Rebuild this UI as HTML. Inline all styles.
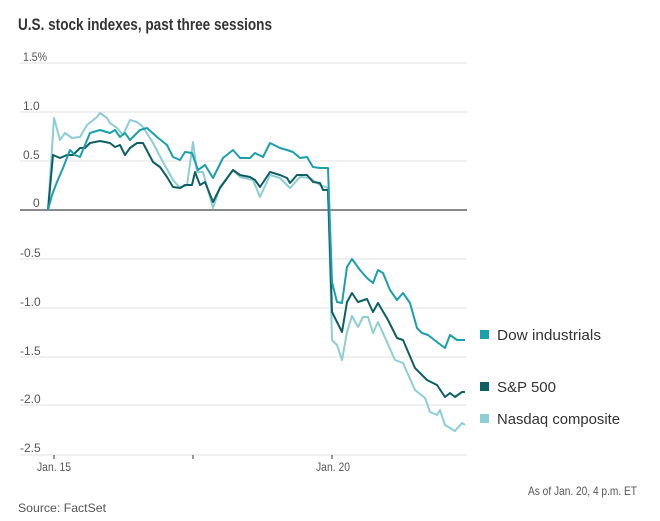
<!DOCTYPE html>
<html><head><meta charset="utf-8"><style>
body{margin:0;background:#fff;}
svg{display:block;font-family:"Liberation Sans",sans-serif;}
</style></head><body>
<svg width="660" height="521" xmlns="http://www.w3.org/2000/svg">
<text x="18" y="30" font-size="16.5" font-weight="bold" fill="#333" textLength="254" lengthAdjust="spacingAndGlyphs">U.S. stock indexes, past three sessions</text>
<g stroke="#ececec" stroke-width="1.5">
<line x1="20" y1="63" x2="467" y2="63"/>
<line x1="20" y1="112" x2="467" y2="112"/>
<line x1="20" y1="161" x2="467" y2="161"/>
<line x1="20" y1="259" x2="467" y2="259"/>
<line x1="20" y1="308" x2="467" y2="308"/>
<line x1="20" y1="357" x2="467" y2="357"/>
<line x1="20" y1="405" x2="467" y2="405"/>
<line x1="20" y1="455" x2="467" y2="455"/>
</g>
<line x1="20" y1="210" x2="467" y2="210" stroke="#8a8a8a" stroke-width="2"/>
<g font-size="12" fill="#555">
<text x="23" y="61" textLength="24" lengthAdjust="spacingAndGlyphs">1.5%</text>
<text x="23" y="110">1.0</text>
<text x="23" y="159">0.5</text>
<text x="33" y="207">0</text>
<text x="20" y="257">-0.5</text>
<text x="20" y="306">-1.0</text>
<text x="20" y="355">-1.5</text>
<text x="20" y="403">-2.0</text>
<text x="20" y="452">-2.5</text>
<text x="37" y="471" textLength="34" lengthAdjust="spacingAndGlyphs">Jan. 15</text>
<text x="316" y="471" textLength="34" lengthAdjust="spacingAndGlyphs">Jan. 20</text>
<text x="528" y="495" textLength="109" lengthAdjust="spacingAndGlyphs">As of Jan. 20, 4 p.m. ET</text>
<text x="18" y="512" textLength="88" lengthAdjust="spacingAndGlyphs">Source: FactSet</text>
</g>
<g stroke="#333" stroke-width="1">
<line x1="54" y1="455" x2="54" y2="459"/>
<line x1="193" y1="455" x2="193" y2="459"/>
<line x1="332" y1="455" x2="332" y2="459"/>
</g>
<g fill="none" stroke-width="2" stroke-linejoin="round">
<polyline stroke="#8ccdd6" points="48,210 54,118 60,140 65,133 72,138 80,137 87,125 97,117 100,113 107,118 110,123 117,128 123,135 130,120 137,122 143,127 153,143 163,162 173,180 180,188 187,185 193,142 197,172 203,172 213,208 220,187 233,170 240,177 253,180 260,197 270,175 280,178 290,188 300,177 310,178 320,185 328,188 332,340 337,345 342,360 347,332 352,316 358,327 363,317 368,317 373,333 378,322 387,342 395,360 403,363 415,390 425,398 430,412 437,415 440,410 445,425 455,431 462,423 465,425"/>
<polyline stroke="#0e5f63" points="48,210 53,155 60,158 67,155 73,155 80,148 85,148 90,143 100,141 110,143 115,147 120,145 125,155 130,148 137,143 143,143 153,162 160,167 167,177 173,187 180,188 185,185 192,185 195,172 200,185 205,182 213,202 220,188 233,170 240,175 250,177 255,180 260,187 270,172 280,175 287,178 290,183 297,175 307,175 313,182 320,183 323,190 328,190 332,312 342,332 347,302 352,293 358,302 367,299 373,312 378,303 388,320 397,338 403,340 415,368 427,380 437,385 445,397 450,393 455,397 462,392 465,392"/>
<polyline stroke="#1a9fad" points="48,210 52,195 57,182 63,168 70,150 75,155 80,157 85,145 90,133 100,130 110,133 115,130 120,137 125,133 130,140 140,130 147,128 157,137 167,145 173,157 180,160 185,152 192,153 198,170 205,165 213,178 223,158 233,150 240,158 250,158 255,153 263,157 270,143 280,148 287,150 293,152 300,158 307,157 313,167 320,168 328,168 332,282 337,302 342,303 347,267 352,259 360,270 367,278 373,283 378,270 383,273 390,290 397,300 403,293 410,303 417,328 422,333 428,335 437,342 445,348 450,335 457,340 465,340"/>
</g>
<rect x="480" y="330" width="9" height="9" fill="#1a9fad"/>
<rect x="480" y="382" width="9" height="9" fill="#0e5f63"/>
<rect x="480" y="414" width="9" height="9" fill="#8ccdd6"/>
<g font-size="15" fill="#333">
<text x="497" y="340" textLength="104" lengthAdjust="spacingAndGlyphs">Dow industrials</text>
<text x="497" y="392" textLength="59" lengthAdjust="spacingAndGlyphs">S&amp;P 500</text>
<text x="497" y="424" textLength="123" lengthAdjust="spacingAndGlyphs">Nasdaq composite</text>
</g>
</svg>
</body></html>
